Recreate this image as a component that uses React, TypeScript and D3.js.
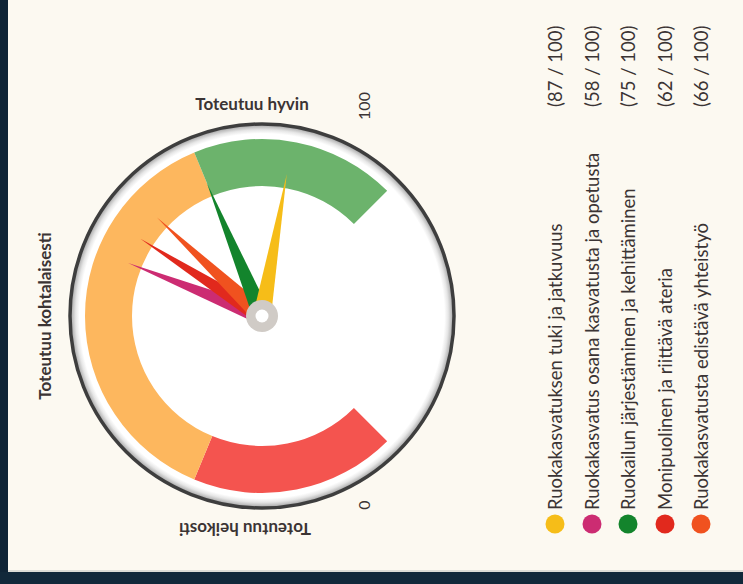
import * as d3 from 'd3';

// gauge bands (value ranges 0..100)
const bandStarts = [0, 25, 75];
const bandEnds = [25, 75, 100];
const bandColors = ['#f4544f', '#fdb75e', '#6cb36c'];

// legend / needles
const categories = [
  'Ruokakasvatuksen tuki ja jatkuvuus',
  'Ruokakasvatus osana kasvatusta ja opetusta',
  'Ruokailun järjestäminen ja kehittäminen',
  'Monipuolinen ja riittävä ateria',
  'Ruokakasvatusta edistävä yhteistyö',
];
const values = [87, 58, 75, 62, 66];
const colors = ['#f6bd18', '#cc2c72', '#13842c', '#e1291d', '#f0521f'];
// drawing order of needles (bottom first)
const needleOrder = [1, 3, 4, 2, 0];

const W = 743;
const H = 584;
const cx = 262;
const cy = 316;

export default function App() {
  const angle = d3.scaleLinear().domain([0, 100]).range([(3 * Math.PI) / 4, (9 * Math.PI) / 4]);
  const bandArc = d3.arc<any>().innerRadius(130).outerRadius(177);

  const needlePath = (v: number) => {
    const a = angle(v);
    const L = 144;
    const w = 9;
    const tip: [number, number] = [Math.sin(a) * L, -Math.cos(a) * L];
    const b1: [number, number] = [Math.cos(a) * w, Math.sin(a) * w];
    const b2: [number, number] = [-Math.cos(a) * w, -Math.sin(a) * w];
    return d3.line()([b1, tip, b2]) + 'Z';
  };

  const legendX = [555, 592, 628, 665, 701];
  const textColor = '#3b3434';

  return (
    <svg width={W} height={H} style={{ position: 'absolute', left: 0, top: 0 }}>
      <defs>
        <radialGradient id="rim" cx="50%" cy="50%" r="50%">
          <stop offset="95%" stopColor="#ffffff" />
          <stop offset="97%" stopColor="#e6e6e6" />
          <stop offset="99%" stopColor="#b5b5b5" />
          <stop offset="100%" stopColor="#d5d5d5" />
        </radialGradient>
      </defs>
      <rect width={W} height={H} fill="#fcf9f1" />
      <rect x={0} y={0} width={8} height={H} fill="#0f2436" />
      <rect x={0} y={572} width={W} height={H - 572} fill="#11283a" />
      <rect x={8} y={570} width={W} height={2} fill="#dcdcd6" />

      <g transform={`translate(${cx},${cy})`}>
        <circle r={192} fill="url(#rim)" />
        <circle r={192} fill="none" stroke="#3e3e3e" strokeWidth={3.5} />
        {bandStarts.map((s, i) => (
          <path
            key={i}
            d={bandArc({ startAngle: angle(s), endAngle: angle(bandEnds[i]) }) as string}
            fill={bandColors[i]}
          />
        ))}
        {needleOrder.map((i) => (
          <path key={i} d={needlePath(values[i])} fill={colors[i]} />
        ))}
        <circle r={16} fill="#d0cbc6" />
        <circle r={6.5} fill="#ffffff" />
      </g>

      <g fontFamily="Lato, sans-serif" fill={textColor}>
        <text x={252} y={110} textAnchor="middle" fontWeight="bold" fontSize={17}>
          Toteutuu hyvin
        </text>
        <text
          transform={`translate(51,${cy}) rotate(-90)`}
          textAnchor="middle"
          fontWeight="bold"
          fontSize={17}
        >
          Toteutuu kohtalaisesti
        </text>
        <text
          transform={`translate(245,523) rotate(180)`}
          textAnchor="middle"
          fontWeight="bold"
          fontSize={17}
        >
          Toteutuu heikosti
        </text>
        <text transform={`translate(370,106) rotate(-90)`} textAnchor="middle" fontSize={16}>
          100
        </text>
        <text transform={`translate(370,505) rotate(-90)`} textAnchor="middle" fontSize={16}>
          0
        </text>

        {categories.map((c, i) => (
          <g key={c}>
            <circle cx={legendX[i]} cy={524} r={9.5} fill={colors[i]} />
            <text transform={`translate(${legendX[i] + 6.5},510) rotate(-90)`} fontSize={18.5}>
              {c}
            </text>
            <text transform={`translate(${legendX[i] + 6.5},107) rotate(-90)`} fontSize={18.5}>
              {`(${values[i]} / 100)`}
            </text>
          </g>
        ))}
      </g>
    </svg>
  );
}
